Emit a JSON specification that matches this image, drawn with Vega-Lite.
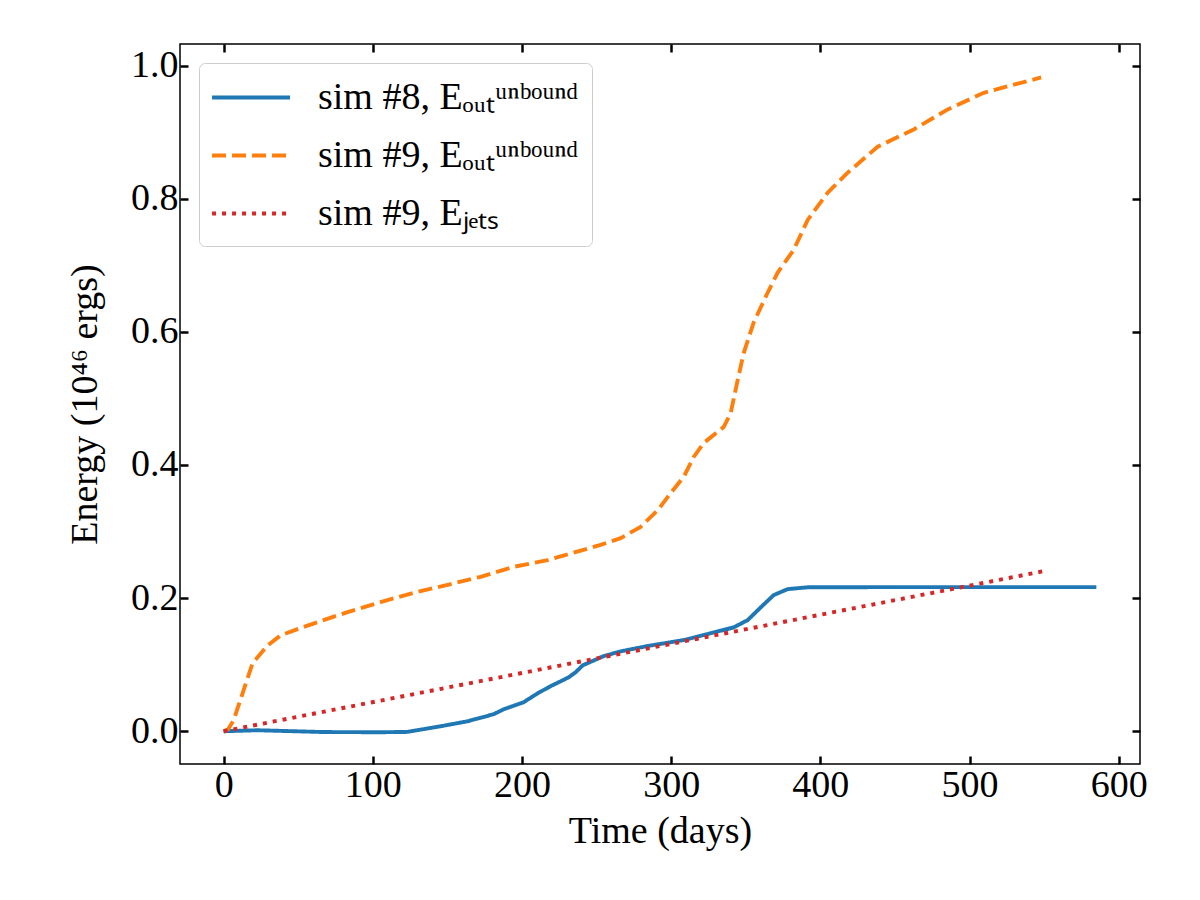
{
  "$schema": "https://vega.github.io/schema/vega-lite/v6.json",
  "width": 960,
  "height": 720,
  "autosize": "none",
  "padding": {"left": 180, "top": 44, "right": 60, "bottom": 136},
  "background": "white",
  "data": {
    "values": [
      {"t": 0, "E": 0, "series": "sim #8, Eₒᵤₜᵘⁿᵇᵒᵘⁿᵈ"},
      {"t": 22.8, "E": 0.0015, "series": "sim #8, Eₒᵤₜᵘⁿᵇᵒᵘⁿᵈ"},
      {"t": 67, "E": -0.0012, "series": "sim #8, Eₒᵤₜᵘⁿᵇᵒᵘⁿᵈ"},
      {"t": 105, "E": -0.0015, "series": "sim #8, Eₒᵤₜᵘⁿᵇᵒᵘⁿᵈ"},
      {"t": 123, "E": -0.001, "series": "sim #8, Eₒᵤₜᵘⁿᵇᵒᵘⁿᵈ"},
      {"t": 145.5, "E": 0.0075, "series": "sim #8, Eₒᵤₜᵘⁿᵇᵒᵘⁿᵈ"},
      {"t": 163.6, "E": 0.015, "series": "sim #8, Eₒᵤₜᵘⁿᵇᵒᵘⁿᵈ"},
      {"t": 181, "E": 0.0256, "series": "sim #8, Eₒᵤₜᵘⁿᵇᵒᵘⁿᵈ"},
      {"t": 187.7, "E": 0.033, "series": "sim #8, Eₒᵤₜᵘⁿᵇᵒᵘⁿᵈ"},
      {"t": 201.1, "E": 0.0436, "series": "sim #8, Eₒᵤₜᵘⁿᵇᵒᵘⁿᵈ"},
      {"t": 210.5, "E": 0.057, "series": "sim #8, Eₒᵤₜᵘⁿᵇᵒᵘⁿᵈ"},
      {"t": 219.2, "E": 0.0677, "series": "sim #8, Eₒᵤₜᵘⁿᵇᵒᵘⁿᵈ"},
      {"t": 231.3, "E": 0.081, "series": "sim #8, Eₒᵤₜᵘⁿᵇᵒᵘⁿᵈ"},
      {"t": 236, "E": 0.0887, "series": "sim #8, Eₒᵤₜᵘⁿᵇᵒᵘⁿᵈ"},
      {"t": 240.7, "E": 0.099, "series": "sim #8, Eₒᵤₜᵘⁿᵇᵒᵘⁿᵈ"},
      {"t": 254.7, "E": 0.1128, "series": "sim #8, Eₒᵤₜᵘⁿᵇᵒᵘⁿᵈ"},
      {"t": 266.1, "E": 0.12, "series": "sim #8, Eₒᵤₜᵘⁿᵇᵒᵘⁿᵈ"},
      {"t": 284.2, "E": 0.128, "series": "sim #8, Eₒᵤₜᵘⁿᵇᵒᵘⁿᵈ"},
      {"t": 308.4, "E": 0.137, "series": "sim #8, Eₒᵤₜᵘⁿᵇᵒᵘⁿᵈ"},
      {"t": 324.5, "E": 0.146, "series": "sim #8, Eₒᵤₜᵘⁿᵇᵒᵘⁿᵈ"},
      {"t": 341.9, "E": 0.156, "series": "sim #8, Eₒᵤₜᵘⁿᵇᵒᵘⁿᵈ"},
      {"t": 351.3, "E": 0.167, "series": "sim #8, Eₒᵤₜᵘⁿᵇᵒᵘⁿᵈ"},
      {"t": 360, "E": 0.186, "series": "sim #8, Eₒᵤₜᵘⁿᵇᵒᵘⁿᵈ"},
      {"t": 368.7, "E": 0.2045, "series": "sim #8, Eₒᵤₜᵘⁿᵇᵒᵘⁿᵈ"},
      {"t": 378.1, "E": 0.2135, "series": "sim #8, Eₒᵤₜᵘⁿᵇᵒᵘⁿᵈ"},
      {"t": 391.5, "E": 0.2162, "series": "sim #8, Eₒᵤₜᵘⁿᵇᵒᵘⁿᵈ"},
      {"t": 450, "E": 0.2165, "series": "sim #8, Eₒᵤₜᵘⁿᵇᵒᵘⁿᵈ"},
      {"t": 585, "E": 0.2165, "series": "sim #8, Eₒᵤₜᵘⁿᵇᵒᵘⁿᵈ"},
      {"t": 0, "E": 0, "series": "sim #9, Eₒᵤₜᵘⁿᵇᵒᵘⁿᵈ"},
      {"t": 3, "E": 0.003, "series": "sim #9, Eₒᵤₜᵘⁿᵇᵒᵘⁿᵈ"},
      {"t": 6.7, "E": 0.0165, "series": "sim #9, Eₒᵤₜᵘⁿᵇᵒᵘⁿᵈ"},
      {"t": 12.7, "E": 0.057, "series": "sim #9, Eₒᵤₜᵘⁿᵇᵒᵘⁿᵈ"},
      {"t": 19.4, "E": 0.102, "series": "sim #9, Eₒᵤₜᵘⁿᵇᵒᵘⁿᵈ"},
      {"t": 29.5, "E": 0.129, "series": "sim #9, Eₒᵤₜᵘⁿᵇᵒᵘⁿᵈ"},
      {"t": 38.2, "E": 0.144, "series": "sim #9, Eₒᵤₜᵘⁿᵇᵒᵘⁿᵈ"},
      {"t": 51.6, "E": 0.155, "series": "sim #9, Eₒᵤₜᵘⁿᵇᵒᵘⁿᵈ"},
      {"t": 67, "E": 0.167, "series": "sim #9, Eₒᵤₜᵘⁿᵇᵒᵘⁿᵈ"},
      {"t": 83.1, "E": 0.179, "series": "sim #9, Eₒᵤₜᵘⁿᵇᵒᵘⁿᵈ"},
      {"t": 105.2, "E": 0.194, "series": "sim #9, Eₒᵤₜᵘⁿᵇᵒᵘⁿᵈ"},
      {"t": 127.4, "E": 0.208, "series": "sim #9, Eₒᵤₜᵘⁿᵇᵒᵘⁿᵈ"},
      {"t": 150.2, "E": 0.22, "series": "sim #9, Eₒᵤₜᵘⁿᵇᵒᵘⁿᵈ"},
      {"t": 172.3, "E": 0.232, "series": "sim #9, Eₒᵤₜᵘⁿᵇᵒᵘⁿᵈ"},
      {"t": 194.4, "E": 0.247, "series": "sim #9, Eₒᵤₜᵘⁿᵇᵒᵘⁿᵈ"},
      {"t": 217.2, "E": 0.257, "series": "sim #9, Eₒᵤₜᵘⁿᵇᵒᵘⁿᵈ"},
      {"t": 252.7, "E": 0.28, "series": "sim #9, Eₒᵤₜᵘⁿᵇᵒᵘⁿᵈ"},
      {"t": 266.1, "E": 0.29, "series": "sim #9, Eₒᵤₜᵘⁿᵇᵒᵘⁿᵈ"},
      {"t": 279.5, "E": 0.307, "series": "sim #9, Eₒᵤₜᵘⁿᵇᵒᵘⁿᵈ"},
      {"t": 291, "E": 0.332, "series": "sim #9, Eₒᵤₜᵘⁿᵇᵒᵘⁿᵈ"},
      {"t": 299.7, "E": 0.358, "series": "sim #9, Eₒᵤₜᵘⁿᵇᵒᵘⁿᵈ"},
      {"t": 308.4, "E": 0.382, "series": "sim #9, Eₒᵤₜᵘⁿᵇᵒᵘⁿᵈ"},
      {"t": 315.1, "E": 0.412, "series": "sim #9, Eₒᵤₜᵘⁿᵇᵒᵘⁿᵈ"},
      {"t": 321.8, "E": 0.433, "series": "sim #9, Eₒᵤₜᵘⁿᵇᵒᵘⁿᵈ"},
      {"t": 335.2, "E": 0.457, "series": "sim #9, Eₒᵤₜᵘⁿᵇᵒᵘⁿᵈ"},
      {"t": 339.9, "E": 0.478, "series": "sim #9, Eₒᵤₜᵘⁿᵇᵒᵘⁿᵈ"},
      {"t": 344.6, "E": 0.528, "series": "sim #9, Eₒᵤₜᵘⁿᵇᵒᵘⁿᵈ"},
      {"t": 348.6, "E": 0.568, "series": "sim #9, Eₒᵤₜᵘⁿᵇᵒᵘⁿᵈ"},
      {"t": 355.3, "E": 0.614, "series": "sim #9, Eₒᵤₜᵘⁿᵇᵒᵘⁿᵈ"},
      {"t": 364.7, "E": 0.659, "series": "sim #9, Eₒᵤₜᵘⁿᵇᵒᵘⁿᵈ"},
      {"t": 371.4, "E": 0.689, "series": "sim #9, Eₒᵤₜᵘⁿᵇᵒᵘⁿᵈ"},
      {"t": 382.1, "E": 0.723, "series": "sim #9, Eₒᵤₜᵘⁿᵇᵒᵘⁿᵈ"},
      {"t": 391.5, "E": 0.768, "series": "sim #9, Eₒᵤₜᵘⁿᵇᵒᵘⁿᵈ"},
      {"t": 404.9, "E": 0.809, "series": "sim #9, Eₒᵤₜᵘⁿᵇᵒᵘⁿᵈ"},
      {"t": 418.3, "E": 0.839, "series": "sim #9, Eₒᵤₜᵘⁿᵇᵒᵘⁿᵈ"},
      {"t": 438.4, "E": 0.878, "series": "sim #9, Eₒᵤₜᵘⁿᵇᵒᵘⁿᵈ"},
      {"t": 462.6, "E": 0.904, "series": "sim #9, Eₒᵤₜᵘⁿᵇᵒᵘⁿᵈ"},
      {"t": 485.4, "E": 0.934, "series": "sim #9, Eₒᵤₜᵘⁿᵇᵒᵘⁿᵈ"},
      {"t": 509.5, "E": 0.959, "series": "sim #9, Eₒᵤₜᵘⁿᵇᵒᵘⁿᵈ"},
      {"t": 534.3, "E": 0.974, "series": "sim #9, Eₒᵤₜᵘⁿᵇᵒᵘⁿᵈ"},
      {"t": 548, "E": 0.982, "series": "sim #9, Eₒᵤₜᵘⁿᵇᵒᵘⁿᵈ"},
      {"t": 0, "E": 0, "series": "sim #9, Eⱼₑₜₛ"},
      {"t": 550, "E": 0.2406, "series": "sim #9, Eⱼₑₜₛ"}
    ]
  },
  "layer": [
    {
      "mark": {"type": "line", "strokeWidth": 3.9, "clip": true},
      "encoding": {
        "x": {
          "field": "t", "type": "quantitative",
          "scale": {"domain": [-29.25, 614.25], "nice": false, "zero": false},
          "axis": {"orient": "bottom", "values": [0, 100, 200, 300, 400, 500, 600], "title": "Time (days)", "grid": false, "domain": false, "tickSize": -8, "tickWidth": 2.5, "tickColor": "black", "labelPadding": 10, "titlePadding": 8}
        },
        "y": {
          "field": "E", "type": "quantitative",
          "scale": {"domain": [-0.0492, 1.0323], "nice": false, "zero": false},
          "axis": {"orient": "left", "values": [0, 0.2, 0.4, 0.6, 0.8, 1.0], "format": ".1f", "title": "Energy (10⁴⁶ ergs)", "grid": false, "domain": false, "tickSize": -8, "tickWidth": 2.5, "tickColor": "black", "labelPadding": 10, "titlePadding": 26}
        },
        "color": {
          "field": "series", "type": "nominal",
          "scale": {"domain": ["sim #8, Eₒᵤₜᵘⁿᵇᵒᵘⁿᵈ", "sim #9, Eₒᵤₜᵘⁿᵇᵒᵘⁿᵈ", "sim #9, Eⱼₑₜₛ"], "range": ["#1f77b4", "#ff7f0e", "#d62728"]},
          "legend": {"title": null}
        },
        "strokeDash": {
          "field": "series", "type": "nominal",
          "scale": {"domain": ["sim #8, Eₒᵤₜᵘⁿᵇᵒᵘⁿᵈ", "sim #9, Eₒᵤₜᵘⁿᵇᵒᵘⁿᵈ", "sim #9, Eⱼₑₜₛ"], "range": [[1, 0], [14, 6], [4, 6]]},
          "legend": {"title": null}
        }
      }
    },
    {
      "mark": {"type": "point", "opacity": 0, "size": 0},
      "encoding": {
        "x": {"field": "t", "type": "quantitative", "axis": {"orient": "top", "values": [0, 100, 200, 300, 400, 500, 600], "labels": false, "title": null, "grid": false, "domain": false, "tickSize": -8, "tickWidth": 2.5, "tickColor": "black"}},
        "y": {"field": "E", "type": "quantitative", "axis": {"orient": "right", "values": [0, 0.2, 0.4, 0.6, 0.8, 1.0], "labels": false, "title": null, "grid": false, "domain": false, "tickSize": -8, "tickWidth": 2.5, "tickColor": "black"}}
      }
    }
  ],
  "resolve": {"axis": {"x": "independent", "y": "independent"}},
  "config": {
    "view": {"stroke": "black", "strokeWidth": 1.5},
    "font": "Liberation Serif",
    "axis": {"labelFont": "Liberation Serif", "labelFontSize": 38, "labelColor": "black", "titleFont": "Liberation Serif", "titleFontSize": 38, "titleFontWeight": "normal", "titleColor": "black"},
    "legend": {
      "orient": "top-left", "offset": 19, "padding": 13,
      "strokeColor": "#cccccc", "fillColor": "rgba(255,255,255,0.8)", "cornerRadius": 6,
      "labelFont": "Liberation Serif", "labelFontSize": 38, "labelColor": "black", "labelLimit": 600,
      "symbolType": "M-1.1,0H2.9", "symbolSize": 1521, "symbolStrokeWidth": 3.9,
      "labelOffset": 63, "rowPadding": 17
    }
  }
}
